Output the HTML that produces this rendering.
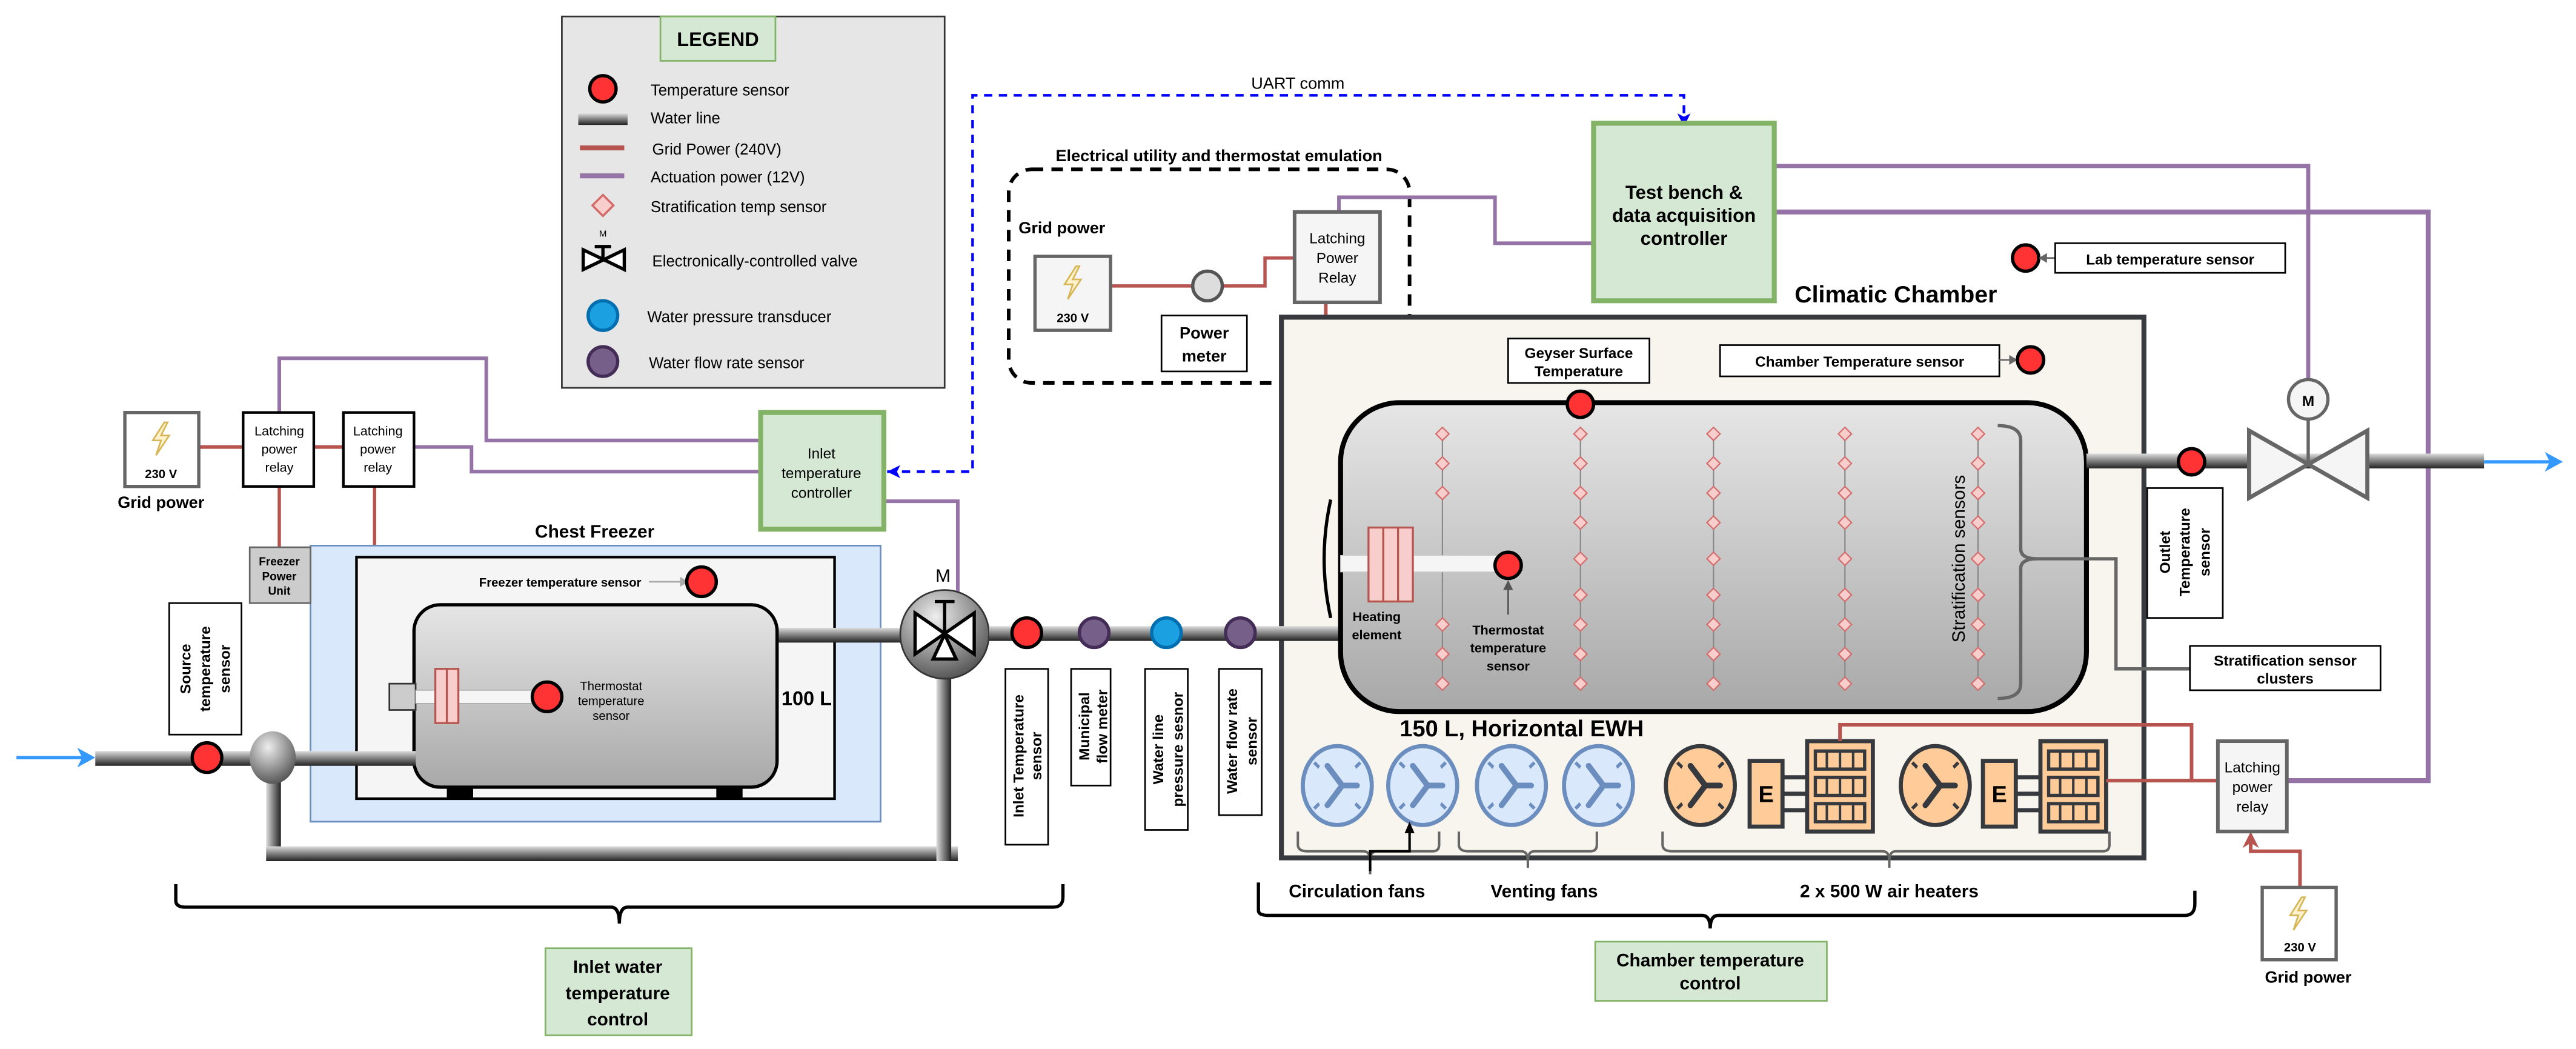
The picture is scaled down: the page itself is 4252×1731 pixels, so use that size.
<!DOCTYPE html>
<html><head><meta charset="utf-8"><style>
html,body{margin:0;padding:0;background:#fff}
svg{display:block}
text{font-family:"Liberation Sans",sans-serif;fill:#000}
.b{font-weight:bold}
</style></head><body>
<svg width="4252" height="1731" viewBox="0 0 1568 638.3" xmlns="http://www.w3.org/2000/svg">
<defs>
<linearGradient id="ph" x1="0" y1="0" x2="0" y2="1"><stop offset="0" stop-color="#ddd"/><stop offset="0.45" stop-color="#888"/><stop offset="1" stop-color="#222"/></linearGradient>
<linearGradient id="pv" x1="0" y1="0" x2="1" y2="0"><stop offset="0" stop-color="#ddd"/><stop offset="0.45" stop-color="#888"/><stop offset="1" stop-color="#222"/></linearGradient>
<linearGradient id="tank" x1="0" y1="0" x2="0" y2="1"><stop offset="0" stop-color="#e6e6e6"/><stop offset="1" stop-color="#a8a8a8"/></linearGradient>
<radialGradient id="ball" cx="0.4" cy="0.3" r="0.8"><stop offset="0" stop-color="#eee"/><stop offset="1" stop-color="#444"/></radialGradient>
<g id="fanb"><ellipse cx="0" cy="0" rx="21" ry="24" fill="#dae8fc" stroke="#6c8ebf" stroke-width="2.5"/><path d="M-14,-14 L14,14 M-14,14 L14,-14" stroke="#6c8ebf" stroke-width="2" fill="none"/><ellipse cx="0" cy="0" rx="14" ry="18" fill="#dae8fc" stroke="none"/><path d="M3,0 L-6,-12 M3,0 L-6,12 M3,0 L12,0" stroke="#6c8ebf" stroke-width="3.5" stroke-linecap="round"/></g>
<g id="fano"><ellipse cx="0" cy="0" rx="21" ry="24" fill="#ffcc99" stroke="#36393d" stroke-width="2.5"/><path d="M-14,-14 L14,14 M-14,14 L14,-14" stroke="#36393d" stroke-width="2" fill="none"/><ellipse cx="0" cy="0" rx="14" ry="18" fill="#ffcc99"/><path d="M3,0 L-6,-12 M3,0 L-6,12 M3,0 L12,0" stroke="#36393d" stroke-width="3.5" stroke-linecap="round"/></g>
<g id="heat"><rect x="0" y="12" width="20" height="40" fill="#ffcc99" stroke="#36393d" stroke-width="2.5"/><text x="10" y="37" font-size="14" class="b" text-anchor="middle" fill="#36393d">E</text><path d="M20,22 H37 M20,32 H37 M20,42 H37" stroke="#36393d" stroke-width="2.5"/><rect x="35" y="0" width="40" height="55" fill="#ffcc99" stroke="#36393d" stroke-width="2.5"/><g fill="#ffcc99" stroke="#36393d" stroke-width="2"><rect x="40" y="6" width="30" height="11"/><rect x="40" y="22" width="30" height="11"/><rect x="40" y="38" width="30" height="11"/></g><path d="M47,6V17 M55,6V17 M63,6V17 M47,22V33 M55,22V33 M63,22V33 M47,38V49 M55,38V49 M63,38V49" stroke="#36393d" stroke-width="1.5"/></g>
<g id="dia"><path d="M0,-4 L4,0 L0,4 L-4,0Z" fill="#f8cecc" stroke="#d46a6a" stroke-width="0.8"/></g>
<g id="bolt"><path d="M2,-10 L-5,1 L0,1 L-3,10 L5,-2 L0,-2 L4,-10Z" fill="#fff2cc" stroke="#d6b656" stroke-width="1"/></g>
</defs>

<!-- LEGEND -->
<rect x="342" y="10" width="233" height="226" fill="#e6e6e6" stroke="#333" stroke-width="1"/>
<rect x="402" y="10" width="70" height="27" fill="#d5e8d4" stroke="#82b366"/>
<text x="437" y="28" font-size="12" class="b" text-anchor="middle">LEGEND</text>
<circle cx="367" cy="54" r="8" fill="#f33" stroke="#000" stroke-width="2"/>
<text x="396" y="58" font-size="9.5">Temperature sensor</text>
<rect x="352" y="69" width="30" height="7" fill="url(#ph)"/>
<text x="396" y="75" font-size="9.5">Water line</text>
<line x1="353" y1="90" x2="380" y2="90" stroke="#b85450" stroke-width="3"/>
<text x="397" y="94" font-size="9.5">Grid Power (240V)</text>
<line x1="353" y1="107" x2="380" y2="107" stroke="#9673a6" stroke-width="3"/>
<text x="396" y="111" font-size="9.5">Actuation power (12V)</text>
<use href="#dia" transform="translate(367,125) scale(1.6)"/>
<text x="396" y="129" font-size="9.5">Stratification temp sensor</text>
<text x="367" y="144" font-size="5.5" text-anchor="middle">M</text>
<path d="M355,152 L380,164 L380,152 L355,164Z M367,150 V158 M362,150 H372" stroke="#000" stroke-width="2" fill="#fff"/>
<text x="397" y="162" font-size="9.5">Electronically-controlled valve</text>
<circle cx="367" cy="192" r="9" fill="#1ba1e2" stroke="#006eaf" stroke-width="2"/>
<text x="394" y="196" font-size="9.5">Water pressure transducer</text>
<circle cx="367" cy="220" r="9" fill="#76608a" stroke="#432d57" stroke-width="2"/>
<text x="395" y="224" font-size="9.5">Water flow rate sensor</text>

<!-- UART -->
<path d="M540,287 H592 V58 H1025 V72" fill="none" stroke="#00f" stroke-width="1.6" stroke-dasharray="5,4"/>
<path d="M540,287 l8,-4 l-2,4 l2,4Z" fill="#00f"/>
<path d="M1025,77 l-4,-8 l4,2 l4,-2Z" fill="#00f"/>
<text x="790" y="54" font-size="10" text-anchor="middle">UART comm</text>

<!-- Electrical utility -->
<text x="742" y="98" font-size="10" class="b" text-anchor="middle">Electrical utility and thermostat emulation</text>
<rect x="614" y="103" width="244" height="130" rx="14" fill="none" stroke="#000" stroke-width="2.2" stroke-dasharray="7,5"/>
<text x="620" y="142" font-size="10" class="b">Grid power</text>
<path d="M676,174 H770 V157 H788" fill="none" stroke="#b85450" stroke-width="2"/>
<rect x="630" y="156" width="46" height="45" fill="#f5f5f5" stroke="#666" stroke-width="2"/>
<use href="#bolt" transform="translate(653,172)"/>
<text x="653" y="196" font-size="7.5" class="b" text-anchor="middle">230 V</text>
<circle cx="735" cy="174" r="9" fill="#ddd" stroke="#555" stroke-width="2"/>
<rect x="707" y="192" width="52" height="34" fill="#fff" stroke="#000"/>
<text x="733" y="206" font-size="10" class="b" text-anchor="middle">Power</text>
<text x="733" y="220" font-size="10" class="b" text-anchor="middle">meter</text>
<path d="M815,129 V120 H910 V148 H970" fill="none" stroke="#9673a6" stroke-width="2.2"/>
<path d="M807,184 V200 H789 V340 H808" fill="none" stroke="#b85450" stroke-width="2.2"/>
<path d="M815,340 l-11,-6 l3,6 l-3,6Z" fill="#b85450"/>
<rect x="788" y="129" width="52" height="55" fill="#f5f5f5" stroke="#666" stroke-width="2.2"/>
<text x="814" y="148" font-size="9" text-anchor="middle" fill="#333">Latching</text>
<text x="814" y="160" font-size="9" text-anchor="middle" fill="#333">Power</text>
<text x="814" y="172" font-size="9" text-anchor="middle" fill="#333">Relay</text>

<!-- Test bench -->
<path d="M1080,101 H1405 V232" fill="none" stroke="#9673a6" stroke-width="2.5"/>
<path d="M1080,129 H1478 V475 H1392" fill="none" stroke="#9673a6" stroke-width="3"/>
<rect x="970" y="75" width="110" height="108" fill="#d5e8d4" stroke="#82b366" stroke-width="3"/>
<text x="1025" y="121" font-size="11.5" class="b" text-anchor="middle">Test bench &amp;</text>
<text x="1025" y="135" font-size="11.5" class="b" text-anchor="middle">data acquisition</text>
<text x="1025" y="149" font-size="11.5" class="b" text-anchor="middle">controller</text>

<circle cx="1233" cy="157" r="8" fill="#f33" stroke="#000" stroke-width="2"/>
<path d="M1251,157 H1243" stroke="#666" stroke-width="1"/><path d="M1241,157 l5,-3 v6Z" fill="#666"/>
<rect x="1251" y="148" width="140" height="18" fill="#fff" stroke="#000"/>
<text x="1321" y="161" font-size="9" class="b" text-anchor="middle">Lab temperature sensor</text>
<text x="1154" y="184" font-size="14.5" class="b" text-anchor="middle">Climatic Chamber</text>

<!-- chamber -->
<rect x="780" y="193" width="525" height="329" fill="#f7f5ee" stroke="#36393d" stroke-width="3"/>
<path d="M1287,340 H1288 V407 H1333" fill="none" stroke="#666" stroke-width="2"/>
<rect x="918" y="206" width="86" height="27" fill="#fff" stroke="#000"/>
<text x="961" y="218" font-size="9" class="b" text-anchor="middle">Geyser Surface</text>
<text x="961" y="229" font-size="9" class="b" text-anchor="middle">Temperature</text>
<rect x="1047" y="210" width="170" height="19" fill="#fff" stroke="#000"/>
<text x="1132" y="223" font-size="9" class="b" text-anchor="middle">Chamber Temperature sensor</text>
<path d="M1217,219 H1224" stroke="#666"/><path d="M1228,219 l-5,-3 v6Z" fill="#666"/>
<circle cx="1236" cy="219" r="8" fill="#f33" stroke="#000" stroke-width="2"/>

<!-- inlet pipe to tank -->
<rect x="700" y="381" width="118" height="9" fill="url(#ph)"/>
<!-- tank -->
<path d="M810,304 Q802,340 810,376" fill="none" stroke="#000" stroke-width="2"/>
<rect x="816" y="245" width="454" height="188" rx="36" fill="url(#tank)" stroke="#000" stroke-width="3"/>
<g stroke="#888" stroke-width="0.8"><line x1="878" y1="263" x2="878" y2="420"/><line x1="962" y1="263" x2="962" y2="416"/><line x1="1043" y1="263" x2="1043" y2="416"/><line x1="1123" y1="263" x2="1123" y2="416"/><line x1="1204" y1="263" x2="1204" y2="416"/></g>
<g>
<use href="#dia" x="878" y="264"/><use href="#dia" x="878" y="282"/><use href="#dia" x="878" y="300"/><use href="#dia" x="878" y="380"/><use href="#dia" x="878" y="398"/><use href="#dia" x="878" y="416"/>
<use href="#dia" x="962" y="264"/><use href="#dia" x="962" y="282"/><use href="#dia" x="962" y="300"/><use href="#dia" x="962" y="318"/><use href="#dia" x="962" y="340"/><use href="#dia" x="962" y="362"/><use href="#dia" x="962" y="380"/><use href="#dia" x="962" y="398"/><use href="#dia" x="962" y="416"/>
<use href="#dia" x="1043" y="264"/><use href="#dia" x="1043" y="282"/><use href="#dia" x="1043" y="300"/><use href="#dia" x="1043" y="318"/><use href="#dia" x="1043" y="340"/><use href="#dia" x="1043" y="362"/><use href="#dia" x="1043" y="380"/><use href="#dia" x="1043" y="398"/><use href="#dia" x="1043" y="416"/>
<use href="#dia" x="1123" y="264"/><use href="#dia" x="1123" y="282"/><use href="#dia" x="1123" y="300"/><use href="#dia" x="1123" y="318"/><use href="#dia" x="1123" y="340"/><use href="#dia" x="1123" y="362"/><use href="#dia" x="1123" y="380"/><use href="#dia" x="1123" y="398"/><use href="#dia" x="1123" y="416"/>
<use href="#dia" x="1204" y="264"/><use href="#dia" x="1204" y="282"/><use href="#dia" x="1204" y="300"/><use href="#dia" x="1204" y="318"/><use href="#dia" x="1204" y="340"/><use href="#dia" x="1204" y="362"/><use href="#dia" x="1204" y="380"/><use href="#dia" x="1204" y="398"/><use href="#dia" x="1204" y="416"/>
</g>
<path d="M1216,259 Q1230,259 1230,268 V334 Q1230,340 1240,340 Q1230,340 1230,346 V416 Q1230,425 1216,425" fill="none" stroke="#666" stroke-width="2"/>
<line x1="1240" y1="340" x2="1288" y2="340" stroke="#666" stroke-width="2"/>
<text transform="translate(1196,340) rotate(-90)" font-size="11" text-anchor="middle" fill="#333">Stratification sensors</text>
<rect x="816" y="338" width="102" height="10" fill="#f5f5f5" stroke="#ccc" stroke-width="0.5"/>
<g fill="#f8cecc" stroke="#b85450" stroke-width="1.2"><rect x="833" y="321" width="9" height="45"/><rect x="842" y="321" width="9" height="45"/><rect x="851" y="321" width="9" height="45"/></g>
<circle cx="918" cy="344" r="8" fill="#f33" stroke="#000" stroke-width="2"/>
<line x1="918" y1="374" x2="918" y2="356" stroke="#555"/><path d="M918,353 l-3,6 h6Z" fill="#555"/>
<text x="838" y="378" font-size="8" class="b" text-anchor="middle">Heating</text>
<text x="838" y="389" font-size="8" class="b" text-anchor="middle">element</text>
<text x="918" y="386" font-size="8" class="b" text-anchor="middle">Thermostat</text>
<text x="918" y="397" font-size="8" class="b" text-anchor="middle">temperature</text>
<text x="918" y="408" font-size="8" class="b" text-anchor="middle">sensor</text>
<circle cx="962" cy="246" r="8" fill="#f33" stroke="#000" stroke-width="2"/>
<text x="852" y="448" font-size="14" class="b">150 L, Horizontal EWH</text>

<!-- outlet -->
<rect x="1270" y="276" width="242" height="9" fill="url(#ph)"/>
<circle cx="1334" cy="281" r="8" fill="#f33" stroke="#000" stroke-width="2"/>
<path d="M1369,262 L1441,303 L1441,262 L1369,303Z" fill="#f5f5f5" stroke="#666" stroke-width="2.5"/>
<line x1="1405" y1="255" x2="1405" y2="282" stroke="#666" stroke-width="2"/>
<circle cx="1405" cy="243" r="12" fill="#f5f5f5" stroke="#666" stroke-width="2"/>
<text x="1405" y="247" font-size="9" class="b" text-anchor="middle">M</text>
<line x1="1512" y1="281" x2="1552" y2="281" stroke="#3399ff" stroke-width="2"/>
<path d="M1560,281 l-11,-6 l3,6 l-3,6Z" fill="#3399ff"/>
<rect x="1307" y="297" width="46" height="79" fill="#fff" stroke="#000"/>
<text transform="translate(1321,336) rotate(-90)" font-size="9" class="b" text-anchor="middle">Outlet</text>
<text transform="translate(1333,336) rotate(-90)" font-size="9" class="b" text-anchor="middle">Temperature</text>
<text transform="translate(1345,336) rotate(-90)" font-size="9" class="b" text-anchor="middle">sensor</text>
<rect x="1333" y="393" width="116" height="27" fill="#fff" stroke="#000"/>
<text x="1391" y="405" font-size="9" class="b" text-anchor="middle">Stratification sensor</text>
<text x="1391" y="416" font-size="9" class="b" text-anchor="middle">clusters</text>

<!-- fans & heaters -->
<use href="#fanb" x="814" y="478"/><use href="#fanb" x="866" y="478"/><use href="#fanb" x="920" y="478"/><use href="#fanb" x="973" y="478"/>
<use href="#fano" x="1035" y="478"/><use href="#heat" x="1065" y="451"/>
<use href="#fano" x="1178" y="478"/><use href="#heat" x="1207" y="451"/>
<path d="M1120,451 V441 H1334 V475 H1282 M1334,475 H1350" fill="none" stroke="#b85450" stroke-width="2.2"/>
<g fill="none" stroke="#666" stroke-width="1.5">
<path d="M790,506 V514 Q790,518 796,518 H830 Q834,518 834,524 Q834,518 838,518 H872 Q876,518 876,514 V506"/>
<path d="M888,506 V514 Q888,518 894,518 H926 Q930,518 930,524 Q930,518 934,518 H968 Q972,518 972,514 V506"/>
<path d="M1012,506 V514 Q1012,518 1018,518 H1146 Q1150,518 1150,524 Q1150,518 1154,518 H1280 Q1284,518 1284,514 V506"/>
<path d="M834,524 V532 M930,524 V528 M1150,524 V528"/>
</g>
<path d="M834,530 V518 H858 V505" fill="none" stroke="#000" stroke-width="1.5"/><path d="M858,500 l-3,7 h6Z" fill="#000"/>
<text x="826" y="546" font-size="11" class="b" text-anchor="middle">Circulation fans</text>
<text x="940" y="546" font-size="11" class="b" text-anchor="middle">Venting fans</text>
<text x="1150" y="546" font-size="11" class="b" text-anchor="middle">2 x 500 W air heaters</text>
<path d="M766,537 V554 Q766,557 772,557 H1036 Q1041,557 1041,565 Q1041,557 1046,557 H1330 Q1336,557 1336,550 V542" fill="none" stroke="#000" stroke-width="2"/>
<rect x="971" y="573" width="141" height="36" fill="#d5e8d4" stroke="#82b366"/>
<text x="1041" y="588" font-size="11" class="b" text-anchor="middle">Chamber temperature</text>
<text x="1041" y="602" font-size="11" class="b" text-anchor="middle">control</text>

<!-- right relay / grid -->
<path d="M1400,540 V518 H1370 V512" fill="none" stroke="#b85450" stroke-width="2.2"/>
<path d="M1370,506 l-5,10 l5,-3 l5,3Z" fill="#b85450"/>
<rect x="1350" y="451" width="42" height="55" fill="#f5f5f5" stroke="#666" stroke-width="2.2"/>
<text x="1371" y="470" font-size="9" text-anchor="middle" fill="#333">Latching</text>
<text x="1371" y="482" font-size="9" text-anchor="middle" fill="#333">power</text>
<text x="1371" y="494" font-size="9" text-anchor="middle" fill="#333">relay</text>
<rect x="1377" y="540" width="45" height="44" fill="#fff" stroke="#666" stroke-width="2"/>
<use href="#bolt" transform="translate(1399,556)"/>
<text x="1400" y="579" font-size="7.5" class="b" text-anchor="middle">230 V</text>
<text x="1405" y="598" font-size="10" class="b" text-anchor="middle">Grid power</text>

<!-- LEFT: relays -->
<path d="M121,272 H209" stroke="#b85450" stroke-width="2.2"/>
<path d="M170,296 V333 M228,296 V424 H238" fill="none" stroke="#b85450" stroke-width="2"/>
<path d="M170,251 V218 H296 V268 H463 M252,272 H287 V287 H463" fill="none" stroke="#9673a6" stroke-width="2.2"/>
<path d="M538,305 H583 V366" fill="none" stroke="#9673a6" stroke-width="2.2"/>
<rect x="76" y="251" width="45" height="45" fill="#fff" stroke="#666" stroke-width="2"/>
<use href="#bolt" transform="translate(98,267)"/>
<text x="98" y="291" font-size="7.5" class="b" text-anchor="middle">230 V</text>
<text x="98" y="309" font-size="10" class="b" text-anchor="middle">Grid power</text>
<rect x="148" y="251" width="43" height="45" fill="#fff" stroke="#000" stroke-width="1.6"/>
<text x="170" y="265" font-size="8" text-anchor="middle" fill="#333">Latching</text>
<text x="170" y="276" font-size="8" text-anchor="middle" fill="#333">power</text>
<text x="170" y="287" font-size="8" text-anchor="middle" fill="#333">relay</text>
<rect x="209" y="251" width="43" height="45" fill="#fff" stroke="#000" stroke-width="1.6"/>
<text x="230" y="265" font-size="8" text-anchor="middle" fill="#333">Latching</text>
<text x="230" y="276" font-size="8" text-anchor="middle" fill="#333">power</text>
<text x="230" y="287" font-size="8" text-anchor="middle" fill="#333">relay</text>
<rect x="463" y="251" width="75" height="71" fill="#d5e8d4" stroke="#82b366" stroke-width="3"/>
<text x="500" y="279" font-size="9" text-anchor="middle">Inlet</text>
<text x="500" y="291" font-size="9" text-anchor="middle">temperature</text>
<text x="500" y="303" font-size="9" text-anchor="middle">controller</text>

<!-- freezer -->
<text x="362" y="327" font-size="11" class="b" text-anchor="middle">Chest Freezer</text>
<rect x="189" y="332" width="347" height="168" fill="#dae8fc" stroke="#6c8ebf"/>
<rect x="217" y="339" width="291" height="147" fill="#f5f5f5" stroke="#000" stroke-width="1.6"/>
<rect x="152" y="333" width="37" height="34" fill="#ccc" stroke="#666"/>
<text x="170" y="344" font-size="7" class="b" text-anchor="middle">Freezer</text>
<text x="170" y="353" font-size="7" class="b" text-anchor="middle">Power</text>
<text x="170" y="362" font-size="7" class="b" text-anchor="middle">Unit</text>
<text x="341" y="357" font-size="7.5" class="b" text-anchor="middle">Freezer temperature sensor</text>
<line x1="395" y1="354" x2="416" y2="354" stroke="#aaa"/><path d="M419,354 l-5,-3 v6Z" fill="#aaa"/>
<circle cx="427" cy="354" r="9" fill="#f33" stroke="#000" stroke-width="2"/>
<rect x="272" y="474" width="16" height="12" fill="#000"/><rect x="436" y="474" width="16" height="12" fill="#000"/>
<rect x="472" y="382" width="80" height="9" fill="url(#ph)"/>
<rect x="252" y="368" width="221" height="111" rx="16" fill="url(#tank)" stroke="#000" stroke-width="2"/>
<rect x="237" y="416" width="16" height="16" fill="#ccc" stroke="#333"/>
<rect x="253" y="420" width="72" height="8" fill="#f5f5f5" stroke="#aaa" stroke-width="0.5"/>
<g fill="#f8cecc" stroke="#b85450" stroke-width="1.2"><rect x="265" y="407" width="7" height="33"/><rect x="272" y="407" width="7" height="33"/></g>
<circle cx="333" cy="424" r="9" fill="#f33" stroke="#000" stroke-width="2"/>
<text x="372" y="420" font-size="7.5" text-anchor="middle">Thermostat</text>
<text x="372" y="429" font-size="7.5" text-anchor="middle">temperature</text>
<text x="372" y="438" font-size="7.5" text-anchor="middle">sensor</text>
<text x="491" y="429" font-size="12" class="b" text-anchor="middle">100 L</text>

<!-- inlet pipe loop -->
<rect x="58" y="457" width="195" height="9" fill="url(#ph)"/>
<rect x="162" y="461" width="9" height="63" fill="url(#pv)"/>
<rect x="162" y="515" width="421" height="9" fill="url(#ph)"/>
<rect x="570" y="395" width="9" height="129" fill="url(#pv)"/>
<line x1="10" y1="461" x2="50" y2="461" stroke="#3399ff" stroke-width="2"/>
<path d="M58,461 l-11,-6 l3,6 l-3,6Z" fill="#3399ff"/>
<circle cx="126" cy="461" r="9" fill="#f33" stroke="#000" stroke-width="2"/>
<ellipse cx="166" cy="461" rx="14" ry="16" fill="url(#ball)"/>
<rect x="103" y="367" width="44" height="80" fill="#fff" stroke="#000"/>
<text transform="translate(116,407) rotate(-90)" font-size="9" class="b" text-anchor="middle">Source</text>
<text transform="translate(128,407) rotate(-90)" font-size="9" class="b" text-anchor="middle">temperature</text>
<text transform="translate(140,407) rotate(-90)" font-size="9" class="b" text-anchor="middle">sensor</text>

<!-- valve -->
<text x="574" y="354" font-size="11" text-anchor="middle">M</text>
<circle cx="575" cy="386" r="27" fill="url(#ball)" stroke="#333"/>
<path d="M557,373 L593,398 L593,373 L557,398Z" fill="#fff" stroke="#000" stroke-width="2"/>
<path d="M575,386 L568,401 H582Z" fill="#fff" stroke="#000" stroke-width="2"/>
<path d="M575,386 V366 M569,366 H581" stroke="#000" stroke-width="2"/>
<rect x="602" y="381" width="100" height="9" fill="url(#ph)"/>
<circle cx="625" cy="385" r="9" fill="#f33" stroke="#000" stroke-width="2"/>
<circle cx="666" cy="385" r="9" fill="#76608a" stroke="#432d57" stroke-width="2"/>
<circle cx="710" cy="385" r="9" fill="#1ba1e2" stroke="#006eaf" stroke-width="2"/>
<circle cx="755" cy="385" r="9" fill="#76608a" stroke="#432d57" stroke-width="2"/>
<rect x="612" y="407" width="26" height="107" fill="#fff" stroke="#000"/>
<text transform="translate(623,460) rotate(-90)" font-size="9" class="b" text-anchor="middle">Inlet Temperature</text>
<text transform="translate(634,460) rotate(-90)" font-size="9" class="b" text-anchor="middle">sensor</text>
<rect x="652" y="407" width="24" height="71" fill="#fff" stroke="#000"/>
<text transform="translate(663,442) rotate(-90)" font-size="9" class="b" text-anchor="middle">Municipal</text>
<text transform="translate(674,442) rotate(-90)" font-size="9" class="b" text-anchor="middle">flow meter</text>
<rect x="697" y="407" width="26" height="98" fill="#fff" stroke="#000"/>
<text transform="translate(708,456) rotate(-90)" font-size="9" class="b" text-anchor="middle">Water line</text>
<text transform="translate(720,456) rotate(-90)" font-size="9" class="b" text-anchor="middle">pressure sesnor</text>
<rect x="742" y="407" width="26" height="89" fill="#fff" stroke="#000"/>
<text transform="translate(753,451) rotate(-90)" font-size="9" class="b" text-anchor="middle">Water flow rate</text>
<text transform="translate(765,451) rotate(-90)" font-size="9" class="b" text-anchor="middle">sensor</text>

<!-- inlet brace -->
<path d="M107,538 V548 Q107,552 113,552 H372 Q377,552 377,562 Q377,552 382,552 H641 Q647,552 647,546 V538" fill="none" stroke="#000" stroke-width="2"/>
<rect x="332" y="577" width="89" height="53" fill="#d5e8d4" stroke="#82b366"/>
<text x="376" y="592" font-size="11" class="b" text-anchor="middle">Inlet water</text>
<text x="376" y="608" font-size="11" class="b" text-anchor="middle">temperature</text>
<text x="376" y="624" font-size="11" class="b" text-anchor="middle">control</text>
</svg>
</body></html>
